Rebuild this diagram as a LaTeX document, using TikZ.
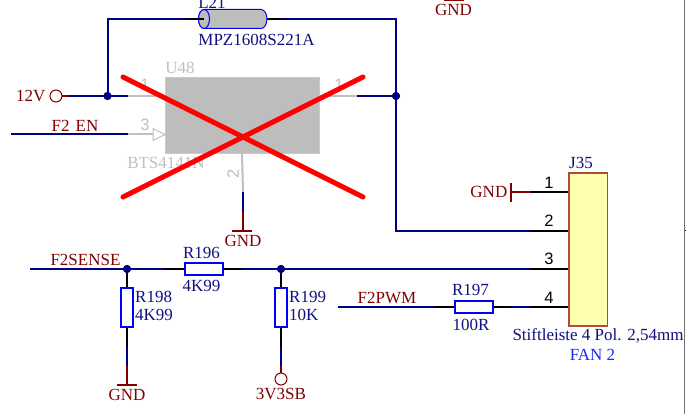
\documentclass[tikz,border=0pt]{standalone}
\usepackage{fontspec}
\setmainfont{Liberation Serif}
\newfontfamily\pinfont{Liberation Sans}
\definecolor{wirec}{HTML}{000080}
\definecolor{netc}{HTML}{800000}
\definecolor{partc}{HTML}{0000FF}
\definecolor{gtxt}{HTML}{C0C0C0}
\definecolor{bodyc}{HTML}{BDBDBD}
\definecolor{labc}{HTML}{10107F}
\definecolor{fanc}{HTML}{1A2BF0}
\definecolor{connf}{HTML}{FFFFB0}
\definecolor{connb}{HTML}{B04A3A}
\definecolor{framec}{HTML}{707070}
\tikzset{
  wire/.style={wirec,line width=2pt},
  pinwire/.style={black,line width=2pt},
  greypin/.style={gtxt,line width=2pt},
  netwire/.style={netc,line width=2pt},
  netlab/.style={text=netc,inner sep=0pt,font=\fontsize{17}{17}\selectfont},
  partlab/.style={text=labc,inner sep=0pt,font=\fontsize{17}{17}\selectfont},
  greylab/.style={text=gtxt,inner sep=0pt,font=\fontsize{17}{17}\selectfont},
  pinlab/.style={text=black,inner sep=0pt,font=\pinfont\fontsize{16.5}{16.5}\selectfont},
  greypinlab/.style={text=gtxt,inner sep=0pt,font=\pinfont\fontsize{16.5}{16.5}\selectfont},
  hres/.style={draw=partc,fill=white,line width=2pt,minimum width=38pt,minimum height=12pt,inner sep=0pt,outer sep=0pt},
  vres/.style={draw=partc,fill=white,line width=2pt,minimum width=12pt,minimum height=39pt,inner sep=0pt,outer sep=0pt},
  dotj/.style={circle,fill=wirec,minimum size=8pt,inner sep=0pt},
  port/.style={circle,draw=netc,fill=white,line width=1pt,minimum size=12pt,inner sep=0pt,outer sep=0pt},
  gndbar/.style={netc,line width=2pt},
  strike/.style={red,line width=5pt,line cap=round},
}
\begin{document}
\begin{tikzpicture}[x=1pt,y=-1pt]
\clip (0,0) rectangle (686,414);
\fill[white] (0,0) rectangle (686,414);
% frame line at the right edge
\coordinate (frT) at (684.4,0);
\coordinate (frB) at (684.4,414);
\draw[framec,line width=1.5pt] (frT) -- (frB);
\coordinate (tick0) at (685,231);
\coordinate (tick1) at (686,231);
\draw[black,line width=1pt] (tick0) -- (tick1);
% --- key points
\coordinate (jL) at (107.5,96);
\coordinate (cornTL) at (107.5,19);
\coordinate (lA) at (185,19);
\coordinate (lB) at (204,19);
\coordinate (lC) at (267,19);
\coordinate (lD) at (281,19);
\coordinate (cornTR) at (396,19);
\coordinate (cornBR) at (396,231);
\coordinate (p2a) at (531,231);
\coordinate (p1a) at (531,192);
\coordinate (p3a) at (531,269);
\coordinate (p4a) at (531,307);
\coordinate (p4b) at (511,307);
\coordinate (gA) at (511,192);
\coordinate (en0) at (11,134.5);
\coordinate (en1) at (128,134.5);
\coordinate (en2) at (153,134.5);
\coordinate (p12) at (69,96);
\coordinate (p13) at (128,96);
\coordinate (pr1) at (357,96);
\coordinate (u2a) at (243,192);
\coordinate (u2b) at (243,212);
\coordinate (u2c) at (243,231);
\coordinate (s0) at (30,269);
\coordinate (pw0) at (338,307);
\coordinate (pw1) at (435,307);
% --- main parts
\node[draw=gtxt!85!white,fill=bodyc,minimum width=154pt,minimum height=76pt,inner sep=0pt,outer sep=0pt] (u48) at (242,115) {};
\node[draw=connb,fill=connf,line width=1.2pt,minimum width=38.5pt,minimum height=153pt,inner sep=0pt,outer sep=0pt] (j35) at (588.2,249.5) {};
\node[hres] (r196) at (204,269) {};
\node[hres] (r197) at (473.5,307) {};
\node[vres] (r198) at (127,307.5) {};
\node[vres] (r199) at (281,307.5) {};
\node[dotj] (j1) at (jL) {};
\node[dotj] (j2) at (396,96) {};
\node[dotj] (j3) at (127,269) {};
\node[dotj] (j4) at (281,269) {};
\node[port] (p12v) at (56,96) {};
\node[port] (p3v3) at (281,379) {};
% --- wires
\draw[wire] (jL) -- (cornTL) -- (lA);
\draw[wire] (lD) -- (cornTR) -- (cornBR) -- (p2a);
\draw[pinwire] (p2a) -- (p2a -| j35.west);
\draw[pinwire] (lA) -- (lB);
\draw[pinwire] (lC) -- (lD);
\draw[netwire] (p12v) -- (p12);
\draw[wire] (p12) -- (p13);
\draw[greypin] (p13) -- (p13 -| u48.west);
\draw[greypin] (pr1 -| u48.east) -- (pr1);
\draw[wire] (pr1) -- (j2);
\draw[wire] (en0) -- (en1);
\draw[greypin] (en1) -- (en2);
\draw[gtxt,line width=1pt,fill=white] (en2) ++(0,-6) -- ++(12,6) -- ++(-12,6) -- cycle;
\draw[greypin] (u48.south) -- (u2a);
\draw[wire] (u2a) -- (u2b);
\draw[netwire] (u2b) -- (u2c);
\draw[gndbar] (232,231) -- (252,231);
% connector pin 1
\draw[pinwire] (p1a) -- (p1a -| j35.west);
\draw[netwire] (gA) -- (p1a);
\draw[gndbar] (511,183) -- (511,202);
% sense line
\draw[wire] (s0) -- (165,269);
\draw[pinwire] (165,269) -- (r196.west);
\draw[pinwire] (r196.east) -- (242,269);
\draw[wire] (242,269) -- (p3a);
\draw[pinwire] (p3a) -- (p3a -| j35.west);
% R198
\draw[pinwire] (j3) -- (r198.north);
\draw[pinwire] (r198.south) -- (127,346);
\draw[wire] (127,346) -- (127,366);
\draw[netwire] (127,366) -- (127,385);
\draw[gndbar] (117,385) -- (137,385);
% R199
\draw[pinwire] (j4) -- (r199.north);
\draw[pinwire] (r199.south) -- (281,346);
\draw[wire] (281,346) -- (281,366);
\draw[netwire] (281,366) -- (p3v3);
% F2PWM
\draw[wire] (pw0) -- (pw1);
\draw[pinwire] (pw1) -- (r197.west);
\draw[pinwire] (r197.east) -- (p4b);
\draw[wire] (p4b) -- (p4a);
\draw[pinwire] (p4a) -- (p4a -| j35.east);
% redraw parts over wires
\node[hres] at (r196) {};
\node[hres] at (r197) {};
\node[vres] at (r198) {};
\node[vres] at (r199) {};
\node[draw=connb,fill=connf,line width=1.2pt,minimum width=38.5pt,minimum height=153pt,inner sep=0pt,outer sep=0pt] at (j35) {};
\node[dotj] at (j1) {};
\node[dotj] at (j2) {};
\node[dotj] at (j3) {};
\node[dotj] at (j4) {};
% top GND
\draw[gndbar] (444,0) -- (464,0);
% inductor
\draw[draw=partc,fill=bodyc,line width=1pt] (204,9.5) -- (261,9.5) arc[start angle=-90,end angle=90,x radius=6,y radius=9.5] -- (204,28.5) arc[start angle=90,end angle=270,x radius=5.5,y radius=9.5] -- cycle;
\draw[draw=partc,fill=bodyc,line width=1pt] (204,19) ellipse[x radius=5.5,y radius=9.5];
\draw[pinwire] (lA) -- (lB);
% labels
\node[partlab] (tl21) at (212,3) {L21};
\node[partlab] (tmpz) at (256.5,40) {MPZ1608S221A};
\node[greylab] (tu48) at (180,67.5) {U48};
\node[greylab] (tbts) at (166,163) {BTS4141N};
\node[greypinlab] at (145,85) {1};
\node[greypinlab] at (339,85) {1};
\node[greypinlab] at (145,125) {3};
\node[greypinlab,rotate=90] at (233,174) {2};
% red cross
\draw[strike] (123,77) -- (363,197);
\draw[strike] (123,197) -- (363,77);
\node[netlab,anchor=east] at (45.5,96) {12V};
\node[netlab] at (75,126) {F2\hspace{6pt}EN};
\node[netlab] at (243,241) {GND};
\node[netlab] at (453.5,10) {GND};
\node[netlab,anchor=east] at (507.5,192) {GND};
\node[netlab] at (85.5,259.5) {F2SENSE};
\node[netlab] at (387,298) {F2PWM};
\node[netlab] at (127,394.5) {GND};
\node[netlab] at (281,394.5) {3V3SB};
\node[partlab] at (201.5,253) {R196};
\node[partlab] at (201.5,286) {4K99};
\node[partlab,anchor=west] at (135,296.5) {R198};
\node[partlab,anchor=west] at (135,315) {4K99};
\node[partlab,anchor=west] at (289,296.5) {R199};
\node[partlab,anchor=west] at (289,315) {10K};
\node[partlab] at (470.5,290) {R197};
\node[partlab] at (471,325) {100R};
\node[partlab] at (581,163) {J35};
\node[partlab] at (598,336) {Stiftleiste 4 Pol. 2,54mm};
\node[text=fanc,inner sep=0pt,font=\fontsize{17}{17}\selectfont] at (592.5,355) {FAN 2};
\node[pinlab] at (549,183) {1};
\node[pinlab] at (549,221) {2};
\node[pinlab] at (549,259) {3};
\node[pinlab] at (549,298) {4};
\end{tikzpicture}
\end{document}
